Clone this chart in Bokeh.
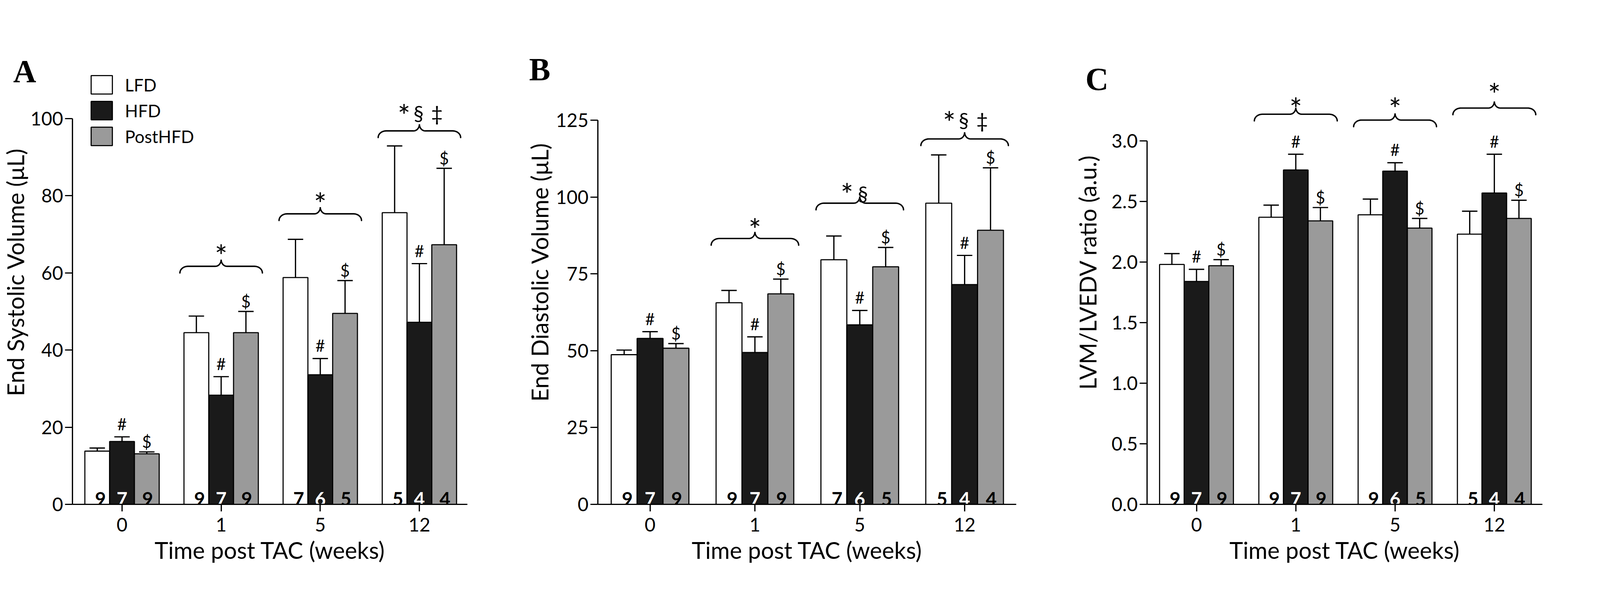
import numpy as np
from bokeh.plotting import figure
from bokeh.models import (Whisker, TeeHead, Legend, LegendItem, Title, FixedTicker,
                          Range1d, ColumnDataSource, NumeralTickFormatter)
from bokeh.layouts import row
from bokeh.core.properties import value
from bokeh.embed import file_html
from bokeh.resources import INLINE

# ---------------- data ----------------
weeks = ["0", "1", "5", "12"]
groups = ["LFD", "HFD", "PostHFD"]

# Panel A: End Systolic Volume (uL)
esv_lfd = [13.8, 44.5, 58.8, 75.6]
esv_lfd_sem = [0.8, 4.3, 9.9, 17.3]
esv_hfd = [16.3, 28.3, 33.6, 47.2]
esv_hfd_sem = [1.2, 4.8, 4.2, 15.2]
esv_post = [13.1, 44.5, 49.5, 67.3]
esv_post_sem = [0.5, 5.5, 8.5, 19.8]

# Panel B: End Diastolic Volume (uL)
edv_lfd = [48.7, 65.6, 79.6, 98.0]
edv_lfd_sem = [1.5, 4.0, 7.7, 15.7]
edv_hfd = [54.0, 49.4, 58.4, 71.5]
edv_hfd_sem = [2.2, 5.1, 4.7, 9.5]
edv_post = [50.8, 68.5, 77.3, 89.2]
edv_post_sem = [1.5, 4.8, 6.3, 20.3]

# Panel C: LVM/LVEDV ratio (a.u.)
ratio_lfd = [1.98, 2.37, 2.39, 2.23]
ratio_lfd_sem = [0.09, 0.10, 0.13, 0.19]
ratio_hfd = [1.84, 2.76, 2.75, 2.57]
ratio_hfd_sem = [0.10, 0.13, 0.07, 0.32]
ratio_post = [1.97, 2.34, 2.28, 2.36]
ratio_post_sem = [0.05, 0.11, 0.08, 0.15]

# animals per bar
n_ab_lfd = [9, 9, 7, 5]
n_ab_hfd = [7, 7, 6, 4]
n_ab_post = [9, 9, 5, 4]
n_c_lfd = [9, 9, 9, 5]
n_c_hfd = [7, 7, 6, 4]
n_c_post = [9, 9, 5, 4]

# significance braces (weeks 1, 5, 12)
brace_weeks = [1, 2, 3]
a_brace_level = [61.7, 75.3, 96.8]
a_star_level = [64.5, 78.0, 100.8]
a_extra_level = [None, None, 101.5]
a_brace_symbols = [["*"], ["*"], ["*", "§", "‡"]]
b_brace_level = [86.5, 98.0, 118.9]
b_star_level = [89.4, 100.9, 124.3]
b_extra_level = [None, 101.2, 125.1]
b_brace_symbols = [["*"], ["*", "§"], ["*", "§", "‡"]]
c_brace_level = [3.220, 3.172, 3.271]
c_star_level = [3.266, 3.266, 3.384]
c_extra_level = [None, None, None]
c_brace_symbols = [["*"], ["*"], ["*"]]

a_yticks = [0, 20, 40, 60, 80, 100]
b_yticks = [0, 25, 50, 75, 100, 125]
c_yticks = [0.0, 0.5, 1.0, 1.5, 2.0, 2.5, 3.0]

# ---------------- style / layout ----------------
SX = 0.68     # horizontal page px per reference px (visible capture is ~4096 px wide)
SY = 1.0      # vertical page px per reference px
SF = 0.8      # font scale
FONT = "Lato"
COLORS = ["white", "#1a1a1a", "#9a9a9a"]
NCOLORS = ["black", "white", "black"]
N_XOFF = [12, 0, 3]
SYM_OFFSETS = {1: [0], 2: [-48, 12], 3: [-58, -3, 66]}
LW = 3.2


def hx(v):
    return v * SX


def vy(v):
    return v * SY


def fs(v):
    return f"{v * SF:.1f}px"


def brace_path(xc, ymid, half_w, sx, sy):
    rxe, rye = hx(30.0), vy(17.0)
    rxt, ryt = hx(22.0), vy(17.0)
    hw = hx(half_w)
    pts = []
    t = np.linspace(np.pi, np.pi / 2, 12)
    pts += list(zip(-hw + rxe + rxe * np.cos(t), -rye + rye * np.sin(t)))
    t = np.linspace(-np.pi / 2, 0, 12)
    pts += list(zip(-rxt + rxt * np.cos(t), ryt + ryt * np.sin(t)))
    t = np.linspace(np.pi, 1.5 * np.pi, 12)
    pts += list(zip(rxt + rxt * np.cos(t), ryt + ryt * np.sin(t)))
    t = np.linspace(np.pi / 2, 0, 12)
    pts += list(zip(hw - rxe + rxe * np.cos(t), -rye + rye * np.sin(t)))
    xs = [xc + dx / sx for dx, dy in pts]
    ys = [ymid + dy / sy for dx, dy in pts]
    return xs, ys


def make_panel(cfg):
    fig_l = 8 if cfg["fig_l"] is None else round(hx(cfg["fig_l"]))
    fig_r = round(hx(cfg["fig_r"]))
    fr_l, fr_r = round(hx(cfg["fr_l"])), round(hx(cfg["fr_r"]))
    fr_t, fr_b = round(vy(110)), round(vy(cfg["fr_b"]))
    H = round(vy(1540)) - 8
    W = fig_r - fig_l
    bl = fr_l - fig_l
    fw = fr_r - fr_l
    br = W - bl - fw
    bt = fr_t - 8
    fh = fr_b - fr_t
    bb = H - bt - fh
    ytop = fh / (cfg["sy_ref"] * SY)
    sx = fw / (cfg["x1"] - cfg["x0"])
    sy = fh / ytop

    p = figure(width=W, height=H,
               x_range=Range1d(cfg["x0"], cfg["x1"]),
               y_range=Range1d(0, ytop),
               output_backend="svg", toolbar_location=None,
               min_border_left=bl, min_border_right=br,
               min_border_top=bt, min_border_bottom=bb)
    p.title = Title(text=cfg["letter"], align="left", vertical_align="bottom",
                    offset=hx(cfg["letter_dx"]), standoff=vy(cfg["letter_standoff"]),
                    text_font="Liberation Serif", text_font_style="bold",
                    text_font_size=fs(102), text_color="black")
    p.outline_line_color = None
    p.grid.visible = False

    bw = cfg["bw"]
    offs = [-bw, 0.0, bw]
    renderers = []
    for i, (vals, sems, ns) in enumerate(cfg["series"]):
        xs = [g + offs[i] for g in range(len(weeks))]
        src = ColumnDataSource(dict(
            x=xs, top=vals, upper=[v + s for v, s in zip(vals, sems)],
            n=[str(k) for k in ns]))
        r = p.vbar(x="x", top="top", width=bw, source=src, fill_color=COLORS[i],
                   line_color="black", line_width=2.8)
        renderers.append(r)
        w = Whisker(source=src, base="x", upper="upper", lower="top",
                    dimension="height", line_width=LW, line_color="black",
                    upper_head=TeeHead(size=hx(58), line_width=LW, line_color="black"),
                    lower_head=None, level="overlay")
        p.add_layout(w)
        p.text(x="x", y=0, text="n", source=src, text_align="center",
               text_baseline="alphabetic", y_offset=vy(-14), x_offset=hx(N_XOFF[i]),
               text_font=value(FONT), text_font_style="bold",
               text_font_size=fs(60), text_color=NCOLORS[i])
        if i == 1:
            p.text(x="x", y="upper", text=value("#"), source=src, text_align="center",
                   text_baseline="alphabetic", y_offset=vy(-33),
                   text_font=value(FONT), text_font_size=fs(52), text_color="black")
        if i == 2:
            p.text(x="x", y="upper", text=value("$"), source=src, text_align="center",
                   text_baseline="alphabetic", y_offset=vy(-26),
                   text_font=value(FONT), text_font_size=fs(52), text_color="black")

    # braces with significance symbols
    for k, g in enumerate(brace_weeks):
        bx, by = brace_path(g, cfg["brace_level"][k], cfg["brace_half"], sx, sy)
        p.line(bx, by, line_width=3.6, line_color="black", line_cap="round")
        syms = cfg["brace_symbols"][k]
        offsx = SYM_OFFSETS[len(syms)]
        p.text(x=[g], y=[cfg["star_level"][k]], text=[syms[0]], x_offset=[hx(offsx[0])],
               text_align="center", text_baseline="alphabetic", text_font=value(FONT),
               text_font_size=fs(96), text_color="black")
        if len(syms) > 1:
            p.text(x=[g] * (len(syms) - 1), y=[cfg["extra_level"][k]] * (len(syms) - 1),
                   text=syms[1:], x_offset=[hx(o) for o in offsx[1:]],
                   text_align="center", text_baseline="alphabetic",
                   text_font=value(FONT), text_font_size=fs(66), text_color="black")

    # legend
    if cfg.get("legend"):
        items = [LegendItem(label=groups[i], renderers=[renderers[i]]) for i in range(3)]
        leg = Legend(items=items, location=(hx(60), vy(912)), glyph_width=round(hx(100)),
                     glyph_height=round(vy(59)), label_standoff=round(hx(38)),
                     spacing=round(vy(7)), padding=0, margin=0,
                     label_text_font=FONT, label_text_font_size=fs(55),
                     label_text_color="black", label_height=round(vy(47)),
                     border_line_color=None, background_fill_alpha=0)
        p.add_layout(leg)

    # axes
    p.xaxis.ticker = FixedTicker(ticks=list(range(len(weeks))))
    p.xaxis.major_label_overrides = {i: w for i, w in enumerate(weeks)}
    p.xaxis.axis_label = "Time post TAC (weeks)"
    p.xaxis.major_tick_out = round(vy(18))
    p.xaxis.major_label_standoff = round(vy(16))
    p.xaxis.axis_label_standoff = round(vy(9))
    p.yaxis.ticker = FixedTicker(ticks=cfg["yticks"])
    p.yaxis.bounds = (0, cfg["yticks"][-1])
    p.yaxis.axis_label = cfg["ylabel"]
    p.yaxis.major_tick_out = round(hx(28))
    p.yaxis.major_label_standoff = 5
    p.yaxis.axis_label_standoff = cfg["ylab_standoff"]
    if cfg.get("fmt"):
        p.yaxis.formatter = NumeralTickFormatter(format=cfg["fmt"])
    for ax in (p.xaxis, p.yaxis):
        ax.axis_line_width = LW
        ax.axis_line_color = "black"
        ax.major_tick_line_width = LW
        ax.major_tick_line_color = "black"
        ax.major_tick_in = 0
        ax.minor_tick_line_color = None
        ax.major_label_text_font = FONT
        ax.major_label_text_font_size = fs(60)
        ax.major_label_text_color = "black"
        ax.axis_label_text_font = FONT
        ax.axis_label_text_font_style = "normal"
        ax.axis_label_text_color = "black"
    p.xaxis.axis_label_text_font_size = fs(74)
    p.yaxis.axis_label_text_font_size = fs(74)
    return p


cfgA = dict(fig_l=None, fig_r=1985, fr_l=276, fr_r=1770, fr_b=1299, sy_ref=9.88,
            x0=-0.5, x1=3.484, bw=0.25,
            series=[(esv_lfd, esv_lfd_sem, n_ab_lfd), (esv_hfd, esv_hfd_sem, n_ab_hfd),
                    (esv_post, esv_post_sem, n_ab_post)],
            brace_level=a_brace_level, star_level=a_star_level, extra_level=a_extra_level,
            brace_symbols=a_brace_symbols, brace_half=156,
            yticks=a_yticks, ylabel="End Systolic Volume (μL)", ylab_standoff=0,
            legend=True, letter="A", letter_dx=53 - 276, letter_standoff=-250)
cfgB = dict(fig_l=1985, fig_r=3990, fr_l=2259, fr_r=3837, fr_b=1298, sy_ref=7.864,
            x0=-0.498, x1=3.492, bw=0.247,
            series=[(edv_lfd, edv_lfd_sem, n_ab_lfd), (edv_hfd, edv_hfd_sem, n_ab_hfd),
                    (edv_post, edv_post_sem, n_ab_post)],
            brace_level=b_brace_level, star_level=b_star_level, extra_level=b_extra_level,
            brace_symbols=b_brace_symbols, brace_half=165,
            yticks=b_yticks, ylabel="End Diastolic Volume (μL)", ylab_standoff=3,
            letter="B", letter_dx=2000 - 2259, letter_standoff=-240)
cfgC = dict(fig_l=3990, fig_r=5998, fr_l=4330, fr_r=5818, fr_b=1298, sy_ref=310.0,
            x0=-0.498, x1=3.484, bw=0.248,
            series=[(ratio_lfd, ratio_lfd_sem, n_c_lfd), (ratio_hfd, ratio_hfd_sem, n_c_hfd),
                    (ratio_post, ratio_post_sem, n_c_post)],
            brace_level=c_brace_level, star_level=c_star_level, extra_level=c_extra_level,
            brace_symbols=c_brace_symbols, brace_half=156,
            yticks=c_yticks, ylabel="LVM/LVEDV ratio (a.u.)", ylab_standoff=22,
            fmt="0.0", letter="C", letter_dx=4098 - 4330, letter_standoff=-290)

layout = row(make_panel(cfgA), make_panel(cfgB), make_panel(cfgC))
open("out.html", "w").write(file_html(layout, INLINE))
